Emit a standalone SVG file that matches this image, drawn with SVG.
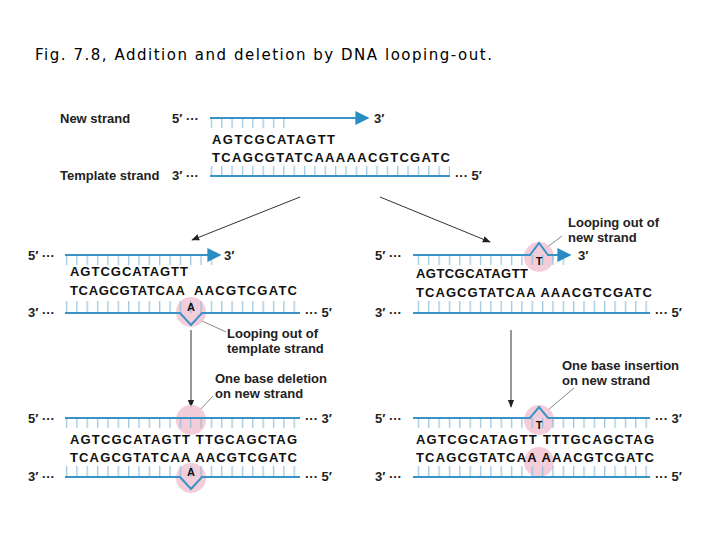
<svg xmlns="http://www.w3.org/2000/svg" width="720" height="540" viewBox="0 0 720 540">
<style>
text{font-family:"Liberation Sans",Arial,sans-serif;fill:#000}
.lb{font-size:13px;font-weight:bold;fill:#222}
.sq{font-size:13px;font-weight:bold;fill:#111}
.bs{font-size:11px;font-weight:bold;fill:#111}
.st{stroke:#3a93c6;stroke-width:2;fill:none}
.tk{fill:url(#tick)}
.pk{fill:#f2c4d4;opacity:.85}
.ld{stroke:#888;stroke-width:1;fill:none}
.ar{stroke:#333;stroke-width:1;fill:none}
</style>
<defs>
<pattern id="tick" width="10.35" height="12" patternUnits="userSpaceOnUse">
<rect x="4" y="0" width="1" height="12" fill="#7fb8d6"/>
</pattern>
<marker id="ah" viewBox="0 0 10 10" refX="9" refY="5" markerWidth="8" markerHeight="8" orient="auto"><path d="M0,1 L10,5 L0,9 z" fill="#222"/></marker>
<marker id="bh" viewBox="0 0 10 10" refX="9" refY="5" markerWidth="7" markerHeight="7" orient="auto"><path d="M0,0 L10,5 L0,10 z" fill="#2a8cc4"/></marker>
</defs>
<text x="35" y="60" style="font-family:'DejaVu Sans',sans-serif;font-size:15px" textLength="457">Fig. 7.8, Addition and deletion by DNA looping-out.</text>

<g id="top">
<text x="60" y="123" class="lb">New strand</text>
<text x="172" y="123" class="lb">5′ ···</text>
<rect x="210" y="118" width="80" height="10" class="tk"/>
<line x1="210" y1="118" x2="368" y2="118" class="st" marker-end="url(#bh)"/>
<text x="374" y="123" class="lb">3′</text>
<text x="212" y="144" class="sq" textLength="123">AGTCGCATAGTT</text>
<text x="212" y="162" class="sq" textLength="238">TCAGCGTATCAAAAACGTCGATC</text>
<text x="60" y="180" class="lb">Template strand</text>
<text x="172" y="180" class="lb">3′ ···</text>
<rect x="210" y="166" width="240" height="10" class="tk"/>
<line x1="210" y1="176" x2="450" y2="176" class="st"/>
<text x="455" y="180" class="lb">··· 5′</text>
</g>

<g id="connectors">
<line x1="300" y1="197" x2="192" y2="240" class="ar" marker-end="url(#ah)"/>
<line x1="380" y1="197" x2="490" y2="242" class="ar" marker-end="url(#ah)"/>
<line x1="191" y1="330" x2="191" y2="407" class="ar" marker-end="url(#ah)"/>
<line x1="511" y1="330" x2="511" y2="407" class="ar" marker-end="url(#ah)"/>
<line x1="200" y1="320" x2="226" y2="332" class="ld"/>
<line x1="213" y1="396" x2="200" y2="410" class="ld"/>
<line x1="562" y1="236" x2="546" y2="248" class="ld"/>
<line x1="574" y1="388" x2="548" y2="410" class="ld"/>
</g>

<g id="left-mid">
<text x="28" y="260" class="lb">5′ ···</text>
<rect x="65" y="255" width="148" height="10" class="tk"/>
<line x1="65" y1="255" x2="220" y2="255" class="st" marker-end="url(#bh)"/>
<text x="224" y="260" class="lb">3′</text>
<text x="70" y="276" class="sq" textLength="118">AGTCGCATAGTT</text>
<text x="70" y="295" class="sq" textLength="115">TCAGCGTATCAA</text>
<text x="194" y="295" class="sq" textLength="103">AACGTCGATC</text>
<circle cx="191" cy="312" r="15" class="pk"/>
<rect x="65" y="301" width="235" height="12" class="tk"/>
<polyline points="65,313 180,313 191,325 202,313 300,313" class="st"/>
<text x="191" y="311" class="bs" text-anchor="middle">A</text>
<text x="28" y="317" class="lb">3′ ···</text>
<text x="305" y="317" class="lb">··· 5′</text>
<text x="227" y="338" class="lb">Looping out of</text>
<text x="227" y="353" class="lb">template strand</text>
</g>

<g id="right-mid">
<text x="375" y="260" class="lb">5′ ···</text>
<circle cx="539" cy="257" r="15" class="pk"/>
<rect x="413" y="255" width="155" height="10" class="tk"/>
<polyline points="413,255 530,255 539,243 548,255 570,255" class="st" marker-end="url(#bh)"/>
<text x="539" y="265" class="bs" text-anchor="middle">T</text>
<text x="578" y="260" class="lb">3′</text>
<text x="568" y="227" class="lb">Looping out of</text>
<text x="568" y="242" class="lb">new strand</text>
<text x="416" y="278" class="sq" textLength="112">AGTCGCATAGTT</text>
<text x="416" y="297" class="sq" textLength="236">TCAGCGTATCAA AAACGTCGATC</text>
<rect x="413" y="301" width="237" height="12" class="tk"/>
<line x1="413" y1="313" x2="650" y2="313" class="st"/>
<text x="375" y="317" class="lb">3′ ···</text>
<text x="655" y="317" class="lb">··· 5′</text>
<text x="562" y="370" class="lb">One base insertion</text>
<text x="562" y="385" class="lb">on new strand</text>
</g>

<g id="left-bottom">
<text x="215" y="383" class="lb">One base deletion</text>
<text x="215" y="398" class="lb">on new strand</text>
<circle cx="191" cy="420" r="15" class="pk"/>
<circle cx="191" cy="478" r="15" class="pk"/>
<text x="28" y="423" class="lb">5′ ···</text>
<rect x="65" y="418" width="235" height="10" class="tk"/>
<line x1="65" y1="418" x2="300" y2="418" class="st"/>
<text x="305" y="423" class="lb">··· 3′</text>
<text x="70" y="444" class="sq" textLength="227">AGTCGCATAGTT TTGCAGCTAG</text>
<text x="70" y="462" class="sq" textLength="227">TCAGCGTATCAA AACGTCGATC</text>
<rect x="65" y="466" width="235" height="11" class="tk"/>
<polyline points="65,477 180,477 191,489 202,477 300,477" class="st"/>
<text x="191" y="476" class="bs" text-anchor="middle">A</text>
<text x="28" y="481" class="lb">3′ ···</text>
<text x="305" y="481" class="lb">··· 5′</text>
</g>

<g id="right-bottom">
<circle cx="539" cy="420" r="15" class="pk"/>
<circle cx="539" cy="462" r="15" class="pk"/>
<text x="375" y="423" class="lb">5′ ···</text>
<rect x="413" y="418" width="237" height="10" class="tk"/>
<polyline points="413,418 530,418 539,407 548,418 650,418" class="st"/>
<text x="539" y="429" class="bs" text-anchor="middle">T</text>
<text x="655" y="423" class="lb">··· 3′</text>
<text x="416" y="444" class="sq" textLength="238">AGTCGCATAGTT TTTGCAGCTAG</text>
<text x="416" y="462" class="sq" textLength="238">TCAGCGTATCAA AAACGTCGATC</text>
<rect x="413" y="466" width="237" height="11" class="tk"/>
<line x1="413" y1="477" x2="650" y2="477" class="st"/>
<text x="375" y="481" class="lb">3′ ···</text>
<text x="655" y="481" class="lb">··· 5′</text>
</g>
</svg>
